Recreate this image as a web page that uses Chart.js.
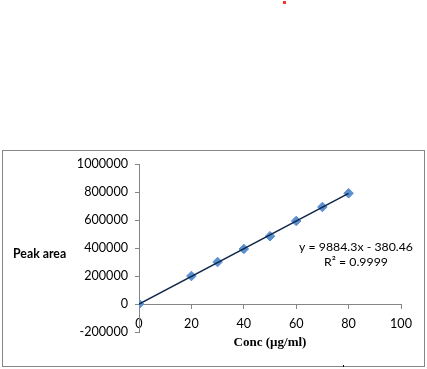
<!DOCTYPE html>
<html>
<head>
<meta charset="utf-8">
<script src="https://cdn.jsdelivr.net/npm/chart.js@4"></script>
<style>
  html, body { margin: 0; padding: 0; background: #fff; }
  #wrap { width: 427px; height: 369px; position: relative; }
</style>
</head>
<body>
<div id="wrap"><canvas id="myChart"></canvas></div>
<script>
// calibration points
const concValues = [0, 20, 30, 40, 50, 60, 70, 80]
const peakAreas = [0, 200000, 300000, 393000, 484000, 593000, 693000, 791000]

// trendline end points (y = 9884.3x - 380.46)
const trendX = [0, 80]
const trendY = [-380, 790364]

const xTicks = [0, 20, 40, 60, 80, 100]
const yTicks = [-200000, 0, 200000, 400000, 600000, 800000, 1000000]

const equationText = 'y = 9884.3x - 380.46'
const r2Text = 'R² = 0.9999'
const yTitle = 'Peak area'
const xTitle = 'Conc (µg/ml)'

const axisGray = '#868686'
const labelFont = { family: 'Lato', size: 12.6 }

const extras = {
    id: 'extras',
    afterDraw(chart) {
        const ctx = chart.ctx
        ctx.save()
        // frame
        ctx.strokeStyle = axisGray
        ctx.lineWidth = 1
        ctx.strokeRect(2.5, 150.5, 422, 216)
        // stray marks
        ctx.fillStyle = '#ff3030'
        ctx.fillRect(283, 1, 3, 3)
        ctx.fillStyle = '#000'
        ctx.fillRect(343, 365, 1, 2)

        ctx.fillStyle = '#000'
        ctx.textBaseline = 'middle'
        ctx.font = 'bold 12.3px Lato'
        ctx.textAlign = 'left'
        ctx.fillText(yTitle, 13, 254)

        ctx.font = 'bold 13px "Liberation Serif"'
        ctx.textAlign = 'center'
        ctx.fillText(xTitle, 270, 343)

        ctx.font = '12.3px Lato'
        ctx.textAlign = 'center'
        ctx.fillText(equationText, 356, 247)
        ctx.fillText(r2Text, 356, 262)
        ctx.restore()
    }
}

const data = {
    datasets: [{
        label: 'trend',
        data: trendX.map((x, i) => ({x: x, y: trendY[i]})),
        showLine: true,
        borderColor: '#0d2748',
        borderWidth: 1.5,
        pointRadius: 0,
        order: 0,
    }, {
        label: 'Peak area',
        data: concValues.map((x, i) => ({x: x, y: peakAreas[i]})),
        pointStyle: 'rectRot',
        pointRadius: 4.8,
        backgroundColor: '#5b8fcf',
        borderColor: '#5b8fcf',
        borderWidth: 1,
        order: 1,
    }]
}

const config = {
    type: 'scatter',
    data: data,
    plugins: [extras],
    options: {
        responsive: false,
        animation: false,
        layout: { padding: { left: 0, top: 164, right: 26, bottom: 37 } },
        plugins: { legend: { display: false }, tooltip: { enabled: false } },
        scales: {
            x: {
                type: 'linear',
                position: { y: 0 },
                min: 0,
                max: 100,
                afterBuildTicks: (scale) => { scale.ticks = xTicks.map(v => ({value: v})) },
                grid: { drawOnChartArea: false, drawTicks: true, tickLength: 4, color: axisGray },
                border: { color: axisGray },
                ticks: { color: '#000', font: labelFont, padding: 8, maxRotation: 0 },
            },
            y: {
                type: 'linear',
                min: -200000,
                max: 1000000,
                afterBuildTicks: (scale) => { scale.ticks = yTicks.map(v => ({value: v})) },
                afterFit: (scale) => { scale.width = 139 },
                grid: { drawOnChartArea: false, drawTicks: true, tickLength: 4, color: axisGray },
                border: { color: axisGray },
                ticks: { color: '#000', font: labelFont, padding: 7, callback: v => String(v) },
            }
        }
    }
}

const canvas = document.getElementById('myChart')
canvas.width = 427
canvas.height = 369
const myChart = new Chart(canvas, config)
</script>
</body>
</html>
